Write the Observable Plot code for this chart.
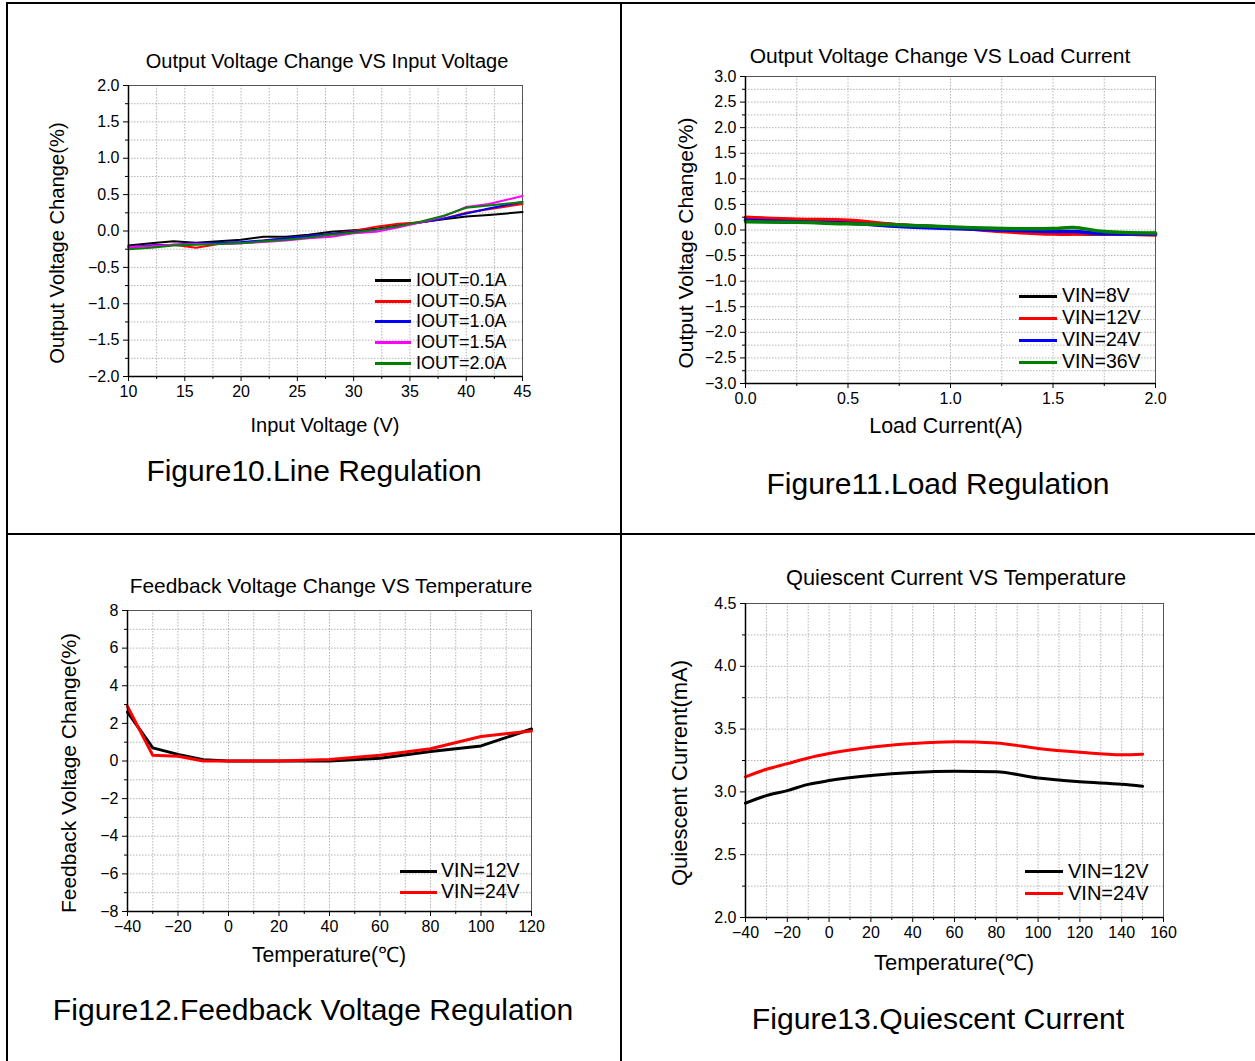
<!DOCTYPE html>
<html>
<head>
<meta charset="utf-8">
<script src="https://cdn.jsdelivr.net/npm/d3@7"></script>
<script src="https://cdn.jsdelivr.net/npm/@observablehq/plot@0.6"></script>
<style>
  html, body { margin: 0; padding: 0; background: #fff; }
  #page { position: relative; width: 1255px; height: 1061px; background: #fff; overflow: hidden;
          font-family: "Liberation Sans", Arial, sans-serif; color: #000; }
  .txt { position: absolute; white-space: nowrap; transform: translate(-50%, -50%); line-height: 1; }
  .rot { transform: translate(-50%, -50%) rotate(-90deg); }
  .bar { position: absolute; background: #000; }
  .leg-line { position: absolute; height: 3px; }
  .leg-text { position: absolute; white-space: nowrap; transform: translateY(-50%); line-height: 1; }
  svg { position: absolute; overflow: visible; }
</style>
</head>
<body>
<div id="page"></div>
<script>
// ---------- Figure 10: Line Regulation ----------
const lineRegVin   = [10, 12, 14, 16, 18, 20, 22, 24, 26, 28, 30, 32, 34, 36, 38, 40, 42, 45];
const lineRegIout01 = [-0.20, -0.17, -0.14, -0.16, -0.14, -0.12, -0.08, -0.08, -0.05, -0.01, 0.01, 0.03, 0.08, 0.12, 0.16, 0.20, 0.22, 0.26];
const lineRegIout05 = [-0.22, -0.20, -0.19, -0.23, -0.18, -0.16, -0.13, -0.10, -0.07, -0.04, 0.00, 0.06, 0.10, 0.12, 0.17, 0.25, 0.30, 0.37];
const lineRegIout10 = [-0.22, -0.20, -0.19, -0.17, -0.16, -0.15, -0.13, -0.10, -0.07, -0.04, -0.01, 0.02, 0.07, 0.12, 0.17, 0.24, 0.31, 0.40];
const lineRegIout15 = [-0.22, -0.21, -0.19, -0.18, -0.18, -0.17, -0.15, -0.13, -0.10, -0.08, -0.03, -0.01, 0.05, 0.12, 0.20, 0.33, 0.37, 0.48];
const lineRegIout20 = [-0.25, -0.23, -0.20, -0.19, -0.18, -0.17, -0.14, -0.12, -0.09, -0.05, -0.02, 0.02, 0.07, 0.13, 0.21, 0.32, 0.35, 0.40];
const lineRegLabels = ["IOUT=0.1A", "IOUT=0.5A", "IOUT=1.0A", "IOUT=1.5A", "IOUT=2.0A"];
const lineRegXTicks = [10, 15, 20, 25, 30, 35, 40, 45];
const lineRegYTicks = [-2.0, -1.5, -1.0, -0.5, 0.0, 0.5, 1.0, 1.5, 2.0];

// ---------- Figure 11: Load Regulation ----------
const loadRegIout  = [0, 0.25, 0.5, 0.75, 1.0, 1.25, 1.5, 1.6, 1.75, 2.0];
const loadRegVin8  = [0.20, 0.17, 0.15, 0.10, 0.05, 0.00, -0.06, -0.07, -0.08, -0.07];
const loadRegVin12 = [0.25, 0.21, 0.19, 0.10, 0.05, -0.03, -0.08, -0.08, -0.07, -0.10];
const loadRegVin24 = [0.19, 0.16, 0.13, 0.07, 0.03, 0.00, -0.03, -0.03, -0.07, -0.08];
const loadRegVin36 = [0.16, 0.15, 0.12, 0.10, 0.06, 0.03, 0.03, 0.05, -0.03, -0.06];
const loadRegLabels = ["VIN=8V", "VIN=12V", "VIN=24V", "VIN=36V"];
const loadRegXTicks = [0.0, 0.5, 1.0, 1.5, 2.0];
const loadRegYTicks = [-3.0, -2.5, -2.0, -1.5, -1.0, -0.5, 0.0, 0.5, 1.0, 1.5, 2.0, 2.5, 3.0];

// ---------- Figure 12: Feedback Voltage Regulation ----------
const fbTemp  = [-40, -30, -20, -10, 0, 20, 40, 60, 80, 100, 120];
const fbVin12 = [2.6, 0.7, 0.35, 0.07, 0, 0, 0, 0.15, 0.5, 0.8, 1.7];
const fbVin24 = [2.9, 0.3, 0.25, 0.0, 0, 0, 0.08, 0.3, 0.65, 1.3, 1.6];
const fbLabels = ["VIN=12V", "VIN=24V"];
const fbXTicks = [-40, -20, 0, 20, 40, 60, 80, 100, 120];
const fbYTicks = [-8, -6, -4, -2, 0, 2, 4, 6, 8];

// ---------- Figure 13: Quiescent Current ----------
const iqTemp  = [-40, -30, -20, -10, 0, 20, 40, 60, 80, 100, 120, 140, 150];
const iqVin12 = [2.91, 2.97, 3.01, 3.06, 3.09, 3.13, 3.155, 3.165, 3.16, 3.11, 3.08, 3.06, 3.045];
const iqVin24 = [3.12, 3.18, 3.225, 3.27, 3.305, 3.355, 3.385, 3.40, 3.39, 3.345, 3.315, 3.295, 3.30];
const iqLabels = ["VIN=12V", "VIN=24V"];
const iqXTicks = [-40, -20, 0, 20, 40, 60, 80, 100, 120, 140, 160];
const iqYTicks = [2.0, 2.5, 3.0, 3.5, 4.0, 4.5];

const FONT = '"Liberation Sans", Arial, sans-serif';
const page = document.getElementById("page");

function rows(xs, seriesList, labels, colors) {
  const out = [];
  seriesList.forEach((ys, i) => ys.forEach((y, j) => out.push({x: xs[j], y, series: labels[i], color: colors[i]})));
  return out;
}
function halves(major) {
  const m = [];
  for (let i = 0; i < major.length - 1; i++) m.push((major[i] + major[i + 1]) / 2);
  return m;
}

function addText(str, cx, cy, size, rotate) {
  const d = document.createElement("div");
  d.className = "txt" + (rotate ? " rot" : "");
  d.style.left = cx + "px"; d.style.top = cy + "px"; d.style.fontSize = size + "px";
  d.textContent = str;
  page.appendChild(d);
}
function addBar(l, t, w, h) {
  const d = document.createElement("div");
  d.className = "bar";
  Object.assign(d.style, {left: l + "px", top: t + "px", width: w + "px", height: h + "px"});
  page.appendChild(d);
}
function addLegend(labels, colors, x1, x2, xt, ys, size) {
  labels.forEach((lab, i) => {
    const l = document.createElement("div");
    l.className = "leg-line";
    Object.assign(l.style, {left: x1 + "px", top: (ys[i] - 1.5) + "px", width: (x2 - x1) + "px", background: colors[i]});
    page.appendChild(l);
    const t = document.createElement("div");
    t.className = "leg-text";
    Object.assign(t.style, {left: xt + "px", top: ys[i] + "px", fontSize: size + "px"});
    t.textContent = lab;
    page.appendChild(t);
  });
}

function panel(cfg) {
  const mL = 60, mR = 25, mT = 12, mB = 35;
  const xMinor = halves(cfg.xTicks), yMinor = halves(cfg.yTicks);
  const xAll = cfg.xTicks.concat(xMinor), yAll = cfg.yTicks.concat(yMinor);
  const xd = [cfg.xTicks[0], cfg.xTicks[cfg.xTicks.length - 1]];
  const yd = [cfg.yTicks[0], cfg.yTicks[cfg.yTicks.length - 1]];
  const chart = Plot.plot({
    width: cfg.right - cfg.left + mL + mR,
    height: cfg.bottom - cfg.top + mT + mB,
    marginLeft: mL, marginRight: mR, marginTop: mT, marginBottom: mB,
    x: {domain: xd}, y: {domain: yd},
    color: {type: "identity"},
    style: {fontFamily: FONT, fontSize: "16px", color: "#000", background: "transparent", overflow: "visible"},
    marks: [
      Plot.gridX(xAll, {stroke: "#b4b4b4", strokeOpacity: 1, strokeDasharray: "1.5,1.5", strokeWidth: 1}),
      Plot.gridY(yAll, {stroke: "#b4b4b4", strokeOpacity: 1, strokeDasharray: "1.5,1.5", strokeWidth: 1}),
      Plot.frame({stroke: "#555", strokeWidth: 1}),
      Plot.line(cfg.data, {x: "x", y: "y", z: "series", stroke: "color", strokeWidth: cfg.sw, curve: cfg.curve || "linear"}),
      Plot.ruleX([xd[0]], {stroke: "#000", strokeWidth: 1.5}),
      Plot.ruleY([yd[0]], {stroke: "#000", strokeWidth: 1.5}),
      Plot.axisX(cfg.xTicks, {anchor: "bottom", tickSize: 5, tickPadding: 4, tickFormat: cfg.xFmt, label: null, fontSize: 16, stroke: "#000"}),
      Plot.axisX(xMinor, {anchor: "bottom", tickSize: 3, tickFormat: () => "", label: null}),
      Plot.axisY(cfg.yTicks, {anchor: "left", tickSize: 5, tickPadding: 4, tickFormat: cfg.yFmt, label: null, fontSize: 16}),
      Plot.axisY(yMinor, {anchor: "left", tickSize: 3, tickFormat: () => "", label: null})
    ]
  });
  chart.style.left = (cfg.left - mL) + "px";
  chart.style.top = (cfg.top - mT) + "px";
  page.appendChild(chart);
}

const c5 = ["#000000", "#ff0000", "#0000ff", "#ff00ff", "#008000"];
const c4 = ["#000000", "#ff0000", "#0000ff", "#008000"];
const c2 = ["#000000", "#ff0000"];
const f1 = d3.format(".1f"), f0 = d3.format(".0f");

// table borders
addBar(6, 2, 1249, 2);
addBar(6, 2, 2, 1059);
addBar(620, 2, 1.5, 1059);
addBar(6, 533, 1249, 2);

// Figure 10
panel({left: 128, right: 522, top: 85, bottom: 376, xTicks: lineRegXTicks, yTicks: lineRegYTicks,
       xFmt: f0, yFmt: f1, sw: 2,
       data: rows(lineRegVin, [lineRegIout01, lineRegIout05, lineRegIout10, lineRegIout15, lineRegIout20], lineRegLabels, c5)});
addText("Output Voltage Change VS Input Voltage", 327, 61, 20);
addText("Output Voltage Change(%)", 57, 243, 20.2, true);
addText("Input Voltage (V)", 325, 425, 20);
addText("Figure10.Line Regulation", 314, 471, 30);
addLegend(lineRegLabels, c5, 375, 411, 416, [280, 301, 321, 342, 363], 18);

// Figure 11
panel({left: 745, right: 1155, top: 76, bottom: 383, xTicks: loadRegXTicks, yTicks: loadRegYTicks,
       xFmt: f1, yFmt: f1, sw: 3.5, curve: "catmull-rom",
       data: rows(loadRegIout, [loadRegVin8, loadRegVin12, loadRegVin24, loadRegVin36], loadRegLabels, c4)});
addText("Output Voltage Change VS Load Current", 940, 55, 21);
addText("Output Voltage Change(%)", 685, 243, 21, true);
addText("Load Current(A)", 946, 427, 21.4);
addText("Figure11.Load Regulation", 938, 484, 30);
addLegend(loadRegLabels, c4, 1019, 1057, 1062, [296, 318, 340, 362], 19.5);

// Figure 12
panel({left: 127, right: 531, top: 610, bottom: 911, xTicks: fbXTicks, yTicks: fbYTicks,
       xFmt: f0, yFmt: f0, sw: 3,
       data: rows(fbTemp, [fbVin12, fbVin24], fbLabels, c2)});
addText("Feedback Voltage Change VS Temperature", 331, 586, 20.9);
addText("Feedback Voltage Change(%)", 68, 773, 21, true);
addText("Temperature(℃)", 329, 955, 21.2);
addText("Figure12.Feedback Voltage Regulation", 313, 1010, 30.1);
addLegend(fbLabels, c2, 400, 437, 441, [871, 892], 19.5);

// Figure 13
panel({left: 745, right: 1163, top: 603, bottom: 917, xTicks: iqXTicks, yTicks: iqYTicks,
       xFmt: f0, yFmt: f1, sw: 3, curve: "monotone-x",
       data: rows(iqTemp, [iqVin12, iqVin24], iqLabels, c2)});
addText("Quiescent Current VS Temperature", 956, 578, 21.8);
addText("Quiescent Current(mA)", 680, 773, 22, true);
addText("Temperature(℃)", 954, 963, 22);
addText("Figure13.Quiescent Current", 938, 1019, 30.2);
addLegend(iqLabels, c2, 1025, 1063, 1068, [871, 893], 20);
</script>
</body>
</html>
